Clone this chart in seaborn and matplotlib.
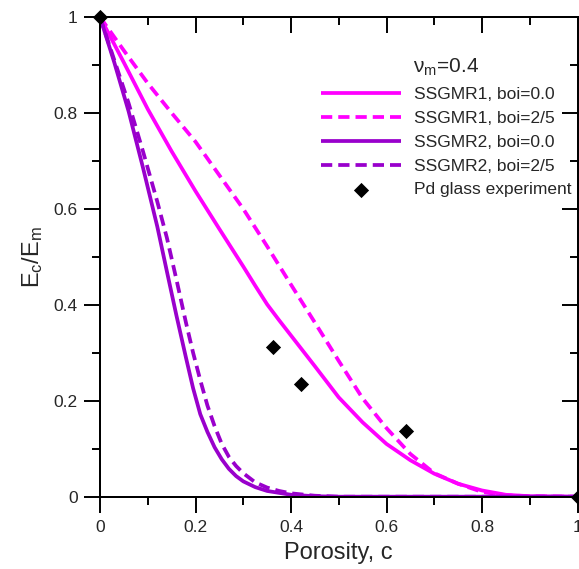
import numpy as np
import pandas as pd
import matplotlib
matplotlib.use("Agg")
import matplotlib.pyplot as plt
from matplotlib.ticker import MultipleLocator, FixedLocator, FixedFormatter, NullFormatter
import seaborn as sns

# Porosity grid and modulus ratios for the two self-similar models
por_r1_b0 = [0, 0.05, 0.1, 0.15, 0.2, 0.25, 0.3, 0.325, 0.35, 0.375, 0.4,
             0.45, 0.5, 0.55, 0.6, 0.65, 0.7, 0.75, 0.8, 0.85, 0.9, 1.0]
E_r1_b0 = [1, 0.905, 0.808, 0.72, 0.637, 0.558, 0.48, 0.44, 0.401, 0.368,
           0.336, 0.272, 0.207, 0.155, 0.11, 0.076, 0.048, 0.027, 0.013,
           0.004, 0.001, 0]

por_r1_b25 = [0, 0.05, 0.1, 0.15, 0.2, 0.25, 0.3, 0.35, 0.4, 0.45, 0.5, 0.55,
              0.6, 0.65, 0.7, 0.75, 0.8, 0.85, 0.9, 1.0]
E_r1_b25 = [1, 0.93, 0.862, 0.80, 0.74, 0.67, 0.60, 0.522, 0.442, 0.363,
            0.283, 0.205, 0.143, 0.089, 0.049, 0.027, 0.010, 0.003, 0.001, 0]

por_r2_b0 = [0, 0.03, 0.06, 0.09, 0.12, 0.14, 0.16, 0.18, 0.195, 0.21, 0.225,
             0.24, 0.255, 0.27, 0.285, 0.3, 0.325, 0.35, 0.4, 0.45, 0.5, 0.6,
             0.8, 1.0]
E_r2_b0 = [1, 0.905, 0.803, 0.686, 0.563, 0.47, 0.378, 0.290, 0.226, 0.172,
           0.135, 0.103, 0.078, 0.058, 0.043, 0.032, 0.02, 0.012, 0.004,
           0.001, 0, 0, 0, 0]

por_r2_b25 = [0, 0.03, 0.06, 0.09, 0.12, 0.14, 0.16, 0.18, 0.195, 0.21,
              0.225, 0.24, 0.255, 0.27, 0.285, 0.3, 0.325, 0.35, 0.375, 0.4,
              0.45, 0.5, 0.6, 0.8, 1.0]
E_r2_b25 = [1, 0.91, 0.82, 0.72, 0.615, 0.54, 0.453, 0.363, 0.30, 0.243,
            0.19, 0.147, 0.11, 0.083, 0.064, 0.049, 0.03, 0.019, 0.012,
            0.007, 0.002, 0, 0, 0, 0]

# Measured Pd-based glass foams
por_exp = [0, 0.363, 0.42, 0.641, 1.0]
E_exp = [1, 0.3125, 0.235, 0.1375, 0]

labels = ["SSGMR1, boi=0.0", "SSGMR1, boi=2/5",
          "SSGMR2, boi=0.0", "SSGMR2, boi=2/5"]
exp_label = "Pd glass experiment"
xticks = [0, 0.2, 0.4, 0.6, 0.8, 1.0]
xticklabels = ["0", "0.2", "0.4", "0.6", "0.8", "1"]
yticks = [0, 0.2, 0.4, 0.6, 0.8, 1.0]
yticklabels = ["0", "0.2", "0.4", "0.6", "0.8", "1"]

sns.set_theme(style="ticks")
plt.rcParams["font.family"] = ["Liberation Sans", "DejaVu Sans"]
plt.rcParams["mathtext.fontset"] = "custom"
plt.rcParams["mathtext.rm"] = "Liberation Sans"
plt.rcParams["mathtext.it"] = "Liberation Sans"

MAGENTA = "#FF00FF"
PURPLE = "#9900CC"
LW = 2.7
DASH = (0, (3.0, 1.6))
SPINE_W = 1.4
MAJ_LEN, MIN_LEN = 11.5, 6

fig = plt.figure(figsize=(5.79, 5.69), dpi=100)
rect = [100 / 579, 1 - 496.7 / 569, 477.5 / 579, (496.7 - 17) / 569]

# main axes: data, labels, outward ticks on the left and bottom
ax = fig.add_axes(rect)

curves = [
    (por_r1_b0, E_r1_b0, MAGENTA, "-"),
    (por_r1_b25, E_r1_b25, MAGENTA, DASH),
    (por_r2_b0, E_r2_b0, PURPLE, "-"),
    (por_r2_b25, E_r2_b25, PURPLE, DASH),
]
for (xs, ys, col, ls), lab in zip(curves, labels):
    df = pd.DataFrame({"c": xs, "E": ys})
    sns.lineplot(data=df, x="c", y="E", ax=ax, color=col, linestyle=ls,
                 linewidth=LW, label=lab, estimator=None, sort=False,
                 solid_capstyle="butt", dash_capstyle="butt",
                 solid_joinstyle="round")

df_exp = pd.DataFrame({"c": por_exp, "E": E_exp})
sns.scatterplot(data=df_exp, x="c", y="E", ax=ax, marker="D", s=60,
                color="black", edgecolor="black", linewidth=0,
                label=exp_label, clip_on=False, zorder=5)

ax.set_xlim(0, 1)
ax.set_ylim(0, 1)
ax.xaxis.set_major_locator(FixedLocator(xticks))
ax.xaxis.set_major_formatter(FixedFormatter(xticklabels))
ax.yaxis.set_major_locator(FixedLocator(yticks))
ax.yaxis.set_major_formatter(FixedFormatter(yticklabels))
ax.xaxis.set_minor_locator(MultipleLocator(0.1))
ax.yaxis.set_minor_locator(MultipleLocator(0.1))

for sp in ax.spines.values():
    sp.set_linewidth(SPINE_W)
    sp.set_color("black")

ax.tick_params(which="both", direction="out", top=False, right=False,
               width=SPINE_W, color="black", labelsize=12.5)
ax.tick_params(which="major", length=MAJ_LEN)
ax.tick_params(which="minor", length=MIN_LEN)
ax.tick_params(axis="x", which="both", pad=5)
ax.tick_params(axis="y", which="both", pad=4.5)

ax.set_xlabel("Porosity, c", fontsize=17, labelpad=5)
ax.set_ylabel(r"$\mathregular{E_c/E_m}$", fontsize=17, labelpad=6)

leg = ax.legend(loc="upper left", bbox_to_anchor=(320.7 / 579, 1 - 57 / 569),
                bbox_transform=fig.transFigure, frameon=False, fontsize=12.5,
                title=r"$\mathregular{\nu_m}$=0.4", title_fontsize=15,
                handlelength=4.6, handletextpad=0.75, labelspacing=0.5,
                borderpad=0, borderaxespad=0, markerscale=1.0)
leg.get_title().set_ha("center")

# transparent overlay carrying the inward ticks on the top and right edges
frame = fig.add_axes(rect)
frame.set_zorder(ax.get_zorder() + 1)
frame.patch.set_alpha(0)
frame.set_xlim(0, 1)
frame.set_ylim(0, 1)
frame.xaxis.set_major_locator(FixedLocator(xticks))
frame.yaxis.set_major_locator(FixedLocator(yticks))
frame.xaxis.set_minor_locator(MultipleLocator(0.1))
frame.yaxis.set_minor_locator(MultipleLocator(0.1))
frame.xaxis.tick_top()
frame.yaxis.tick_right()
frame.tick_params(which="both", direction="in", width=SPINE_W, color="black",
                  labeltop=False, labelbottom=False, labelleft=False,
                  labelright=False, bottom=False, left=False, top=True,
                  right=True)
frame.tick_params(which="major", length=MAJ_LEN)
frame.tick_params(which="minor", length=MIN_LEN)
for sp in frame.spines.values():
    sp.set_linewidth(SPINE_W)
    sp.set_color("black")

fig.savefig("out.png", dpi=100)
